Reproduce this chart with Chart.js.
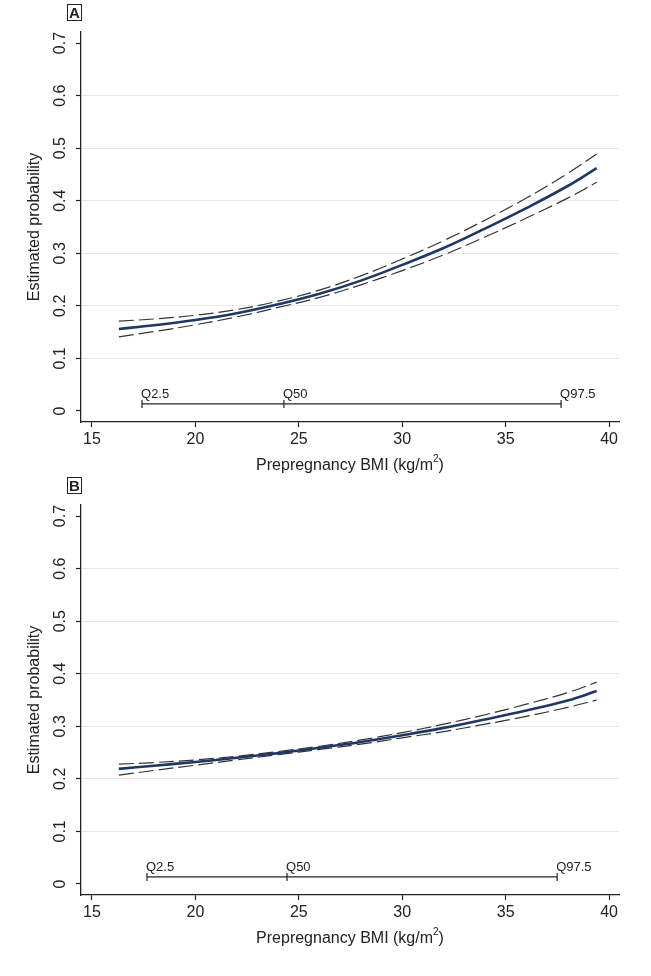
<!DOCTYPE html>
<html>
<head>
<meta charset="utf-8">
<script src="https://cdn.jsdelivr.net/npm/chart.js@4.4.1/dist/chart.umd.min.js"></script>
<style>
  html, body { margin: 0; padding: 0; background: #fff; }
  .panel { position: relative; width: 651px; }
  .tag {
    position: absolute; left: 67px; top: 4px;
    font: bold 15px "Liberation Sans", Arial, sans-serif;
    border: 1px solid #222; padding: 0 1px; line-height: 15px; color: #222;
  }
</style>
</head>
<body>
<div class="panel" style="height:473px"><div class="tag">A</div><canvas id="chartA" width="651" height="473"></canvas></div>
<div class="panel" style="height:503px"><div class="tag">B</div><canvas id="chartB" width="651" height="503"></canvas></div>
<script>
const bmi = [16.3, 18, 20, 22, 24, 26, 28, 30, 32, 34, 36, 38, 39.4];

// panel A
const probA  = [0.156, 0.163, 0.173, 0.186, 0.203, 0.223, 0.248, 0.278, 0.310, 0.347, 0.386, 0.428, 0.462];
const upperA = [0.171, 0.175, 0.182, 0.193, 0.209, 0.230, 0.257, 0.289, 0.324, 0.363, 0.405, 0.452, 0.489];
const lowerA = [0.141, 0.151, 0.164, 0.179, 0.197, 0.216, 0.240, 0.267, 0.297, 0.331, 0.367, 0.405, 0.435];
const quantA = [17.42, 24.28, 37.68];

// panel B
const probB  = [0.219, 0.225, 0.232, 0.240, 0.249, 0.259, 0.270, 0.283, 0.297, 0.313, 0.330, 0.349, 0.367];
const upperB = [0.228, 0.231, 0.236, 0.243, 0.252, 0.262, 0.274, 0.288, 0.304, 0.322, 0.342, 0.364, 0.384];
const lowerB = [0.207, 0.216, 0.226, 0.236, 0.246, 0.256, 0.266, 0.278, 0.290, 0.304, 0.319, 0.336, 0.350];
const quantB = [17.66, 24.43, 37.49];

const quantLabels = ["Q2.5", "Q50", "Q97.5"];
const quantLevel = 0.0133;
const xTicks = [15, 20, 25, 30, 35, 40];
const yTicks = [0, 0.1, 0.2, 0.3, 0.4, 0.5, 0.6, 0.7];

const FONT = "'Liberation Sans Narrow', 'Liberation Sans', Arial, sans-serif";
const INK = "#222";

const pts = (xs, ys) => xs.map((x, i) => ({ x, y: ys[i] }));

const textPlugin = {
  id: "stataText",
  afterDraw(chart) {
    const ctx = chart.ctx;
    const area = chart.chartArea;
    const ys = chart.scales.y;
    ctx.save();
    ctx.fillStyle = INK;
    // rotated y tick labels
    ctx.font = "16px " + FONT;
    ctx.textAlign = "center";
    ctx.textBaseline = "middle";
    yTicks.forEach(v => {
      ctx.save();
      ctx.translate(61, ys.getPixelForValue(v));
      ctx.rotate(-Math.PI / 2);
      ctx.fillText(v === 0 ? "0" : v.toFixed(1), 0, 0);
      ctx.restore();
    });
    // y title
    ctx.save();
    ctx.translate(35, (area.top + area.bottom) / 2);
    ctx.rotate(-Math.PI / 2);
    ctx.font = "16px " + FONT;
    ctx.fillText("Estimated probability", 0, 0);
    ctx.restore();
    // x title with raised exponent
    ctx.font = "16px " + FONT;
    ctx.textBaseline = "middle";
    ctx.textAlign = "left";
    const main = "Prepregnancy BMI (kg/m";
    const wMain = ctx.measureText(main).width;
    ctx.font = "10px " + FONT;
    const wSup = ctx.measureText("2").width;
    ctx.font = "16px " + FONT;
    const wEnd = ctx.measureText(")").width;
    let x0 = (area.left + area.right) / 2 - (wMain + wSup + wEnd) / 2;
    const yt = area.bottom + 44;
    ctx.fillText(main, x0, yt);
    ctx.font = "10px " + FONT;
    ctx.fillText("2", x0 + wMain, yt - 7);
    ctx.font = "16px " + FONT;
    ctx.fillText(")", x0 + wMain + wSup, yt);
    // quantile labels
    const meta = chart.getDatasetMeta(3);
    ctx.font = "13px " + FONT;
    ctx.textAlign = "left";
    ctx.textBaseline = "bottom";
    meta.data.forEach((p, i) => ctx.fillText(quantLabels[i], p.x - 1, p.y - 3));
    ctx.restore();
  }
};

function makeChart(id, prob, upper, lower, quant, padBottom) {
  const dash = { borderColor: "#333", borderWidth: 1.2, borderDash: [15, 5], pointRadius: 0, tension: 0.4, order: 2 };
  return new Chart(document.getElementById(id), {
    type: "line",
    data: {
      datasets: [
        { data: pts(bmi, prob), borderColor: "#1d3766", borderWidth: 2.6, pointRadius: 0, tension: 0.4, order: 0 },
        Object.assign({ data: pts(bmi, upper) }, dash),
        Object.assign({ data: pts(bmi, lower) }, dash),
        {
          data: quant.map(q => ({ x: q, y: quantLevel })),
          borderColor: INK, borderWidth: 1.2, tension: 0, order: 1,
          pointStyle: "line", rotation: 90, pointRadius: 4,
          pointBorderColor: INK, pointBorderWidth: 1.2
        }
      ]
    },
    options: {
      responsive: false,
      animation: false,
      layout: { padding: { left: 0, top: 32, right: 32, bottom: padBottom } },
      plugins: { legend: { display: false }, tooltip: { enabled: false } },
      scales: {
        x: {
          type: "linear", min: 14.47, max: 40.48,
          afterBuildTicks: s => { s.ticks = xTicks.map(v => ({ value: v })); },
          afterFit: s => { s.height = 51; },
          ticks: { color: INK, font: { size: 16, family: FONT }, padding: 3, maxRotation: 0 },
          grid: { color: "rgba(0,0,0,0)", tickColor: INK, tickLength: 5, tickWidth: 1.2 },
          border: { color: INK, width: 1.3 }
        },
        y: {
          type: "linear", min: -0.021, max: 0.721,
          afterBuildTicks: s => { s.ticks = yTicks.map(v => ({ value: v })); },
          afterFit: s => { s.width = 81; },
          ticks: { display: false },
          grid: {
            color: c => (c.tick && c.tick.value > 0.05 && c.tick.value < 0.65) ? "#e3e8ea" : "rgba(0,0,0,0)",
            lineWidth: 1, tickColor: INK, tickLength: 5, tickWidth: 1.2
          },
          border: { color: INK, width: 1.3 }
        }
      }
    },
    plugins: [textPlugin]
  });
}

makeChart("chartA", probA, upperA, lowerA, quantA, 0);
makeChart("chartB", probB, upperB, lowerB, quantB, 30);
</script>
</body>
</html>
